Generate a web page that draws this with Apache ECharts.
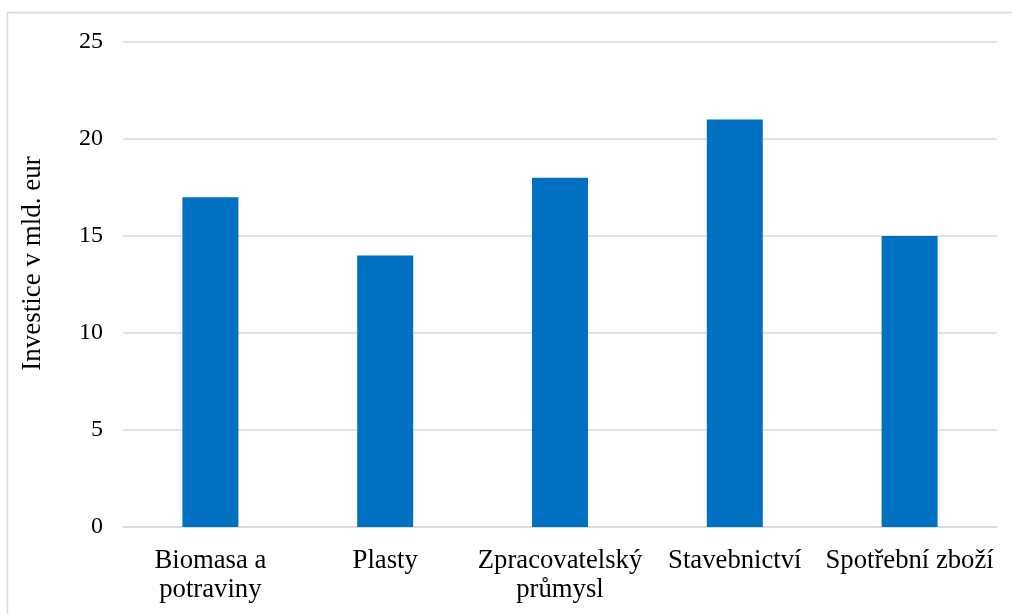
<!DOCTYPE html>
<html><head><meta charset="utf-8">
<script src="https://cdn.jsdelivr.net/npm/echarts@6/dist/echarts.min.js"></script>
<style>html,body{margin:0;padding:0;background:#fff;}#c{width:1012px;height:614px;}</style>
</head><body><div id="c"></div>
<script>
const categories = ['Biomasa a\npotraviny', 'Plasty', 'Zpracovatelský\nprůmysl', 'Stavebnictví', 'Spotřební zboží'];
const values = [17, 14, 18, 21, 15];
const yTicks = [0, 5, 10, 15, 20, 25];
const yName = 'Investice v mld. eur';

const fontFam = '"Liberation Serif", "Times New Roman", serif';
const chart = echarts.init(document.getElementById('c'), null, {renderer: 'canvas'});
chart.setOption({
  animation: false,
  backgroundColor: '#fff',
  graphic: [
    {type: 'rect', shape: {x: 7.5, y: 12.5, width: 1100, height: 700}, style: {fill: 'none', stroke: '#d9d9d9', lineWidth: 1.5}, silent: true},
    {type: 'text', x: 33, y: 263.5, rotation: Math.PI / 2, silent: true,
     style: {text: yName, fill: '#000', font: '27px ' + fontFam, textAlign: 'center', textVerticalAlign: 'middle', align: 'center', verticalAlign: 'middle'}}
  ],
  grid: {left: 123, right: 15, top: 42, bottom: 87, containLabel: false},
  xAxis: {
    type: 'category', data: categories,
    axisLine: {show: true, lineStyle: {color: '#d9d9d9', width: 1.5}},
    axisTick: {show: false},
    axisLabel: {color: '#000', fontFamily: fontFam, fontSize: 26.7, lineHeight: 29, margin: 19, interval: 0}
  },
  yAxis: {
    type: 'value', min: yTicks[0], max: yTicks[yTicks.length - 1], interval: 5,
    axisLine: {show: false}, axisTick: {show: false},
    axisLabel: {color: '#000', fontFamily: fontFam, fontSize: 24, margin: 20},
    splitLine: {lineStyle: {color: '#d9d9d9', width: 1.5}}
  },
  series: [{type: 'bar', data: values, barWidth: 56, itemStyle: {color: '#0070C0'}}]
});
</script></body></html>
